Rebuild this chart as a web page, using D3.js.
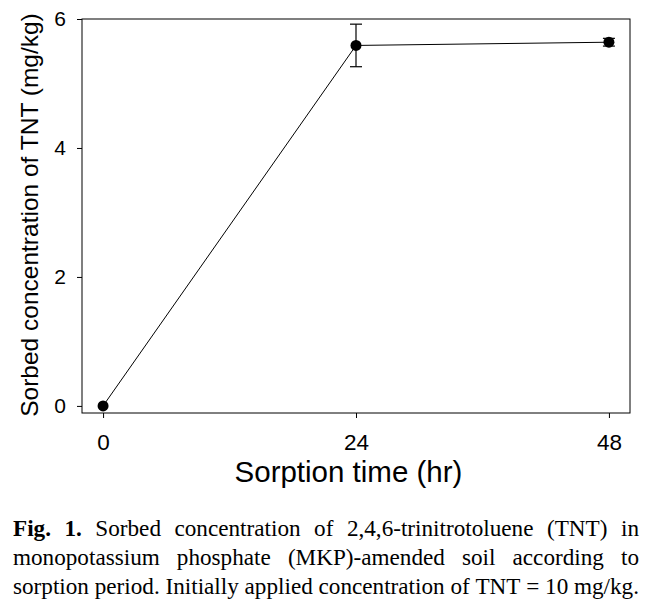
<!DOCTYPE html>
<html>
<head>
<meta charset="utf-8">
<script src="https://cdn.jsdelivr.net/npm/d3@7"></script>
<style>
  body { margin: 0; background: white; }
</style>
</head>
<body>
<div id="chart"></div>
<script>
var W = 658, H = 607;

// data
var times = [0, 24, 48];            // sorption time (hr)
var sorbed = [0, 5.59, 5.64];       // sorbed TNT (mg/kg)
var errs = [0, 0.33, 0.06];         // error bar half-length
var xTicks = [0, 24, 48];
var yTicks = [0, 2, 4, 6];
var captionLines = [
  [["Fig.", true], ["1.", true], ["Sorbed"], ["concentration"], ["of"], ["2,4,6-trinitrotoluene"], ["(TNT)"], ["in"]],
  [["monopotassium"], ["phosphate"], ["(MKP)-amended"], ["soil"], ["according"], ["to"]],
  [["sorption"], ["period."], ["Initially"], ["applied"], ["concentration"], ["of"], ["TNT"], ["="], ["10"], ["mg/kg."]]
];

var box = { left: 82, top: 19, right: 630, bottom: 413 };
var sans = "'Liberation Sans', Arial, sans-serif";
var serif = "'Liberation Serif', 'Times New Roman', serif";

var svg = d3.select('#chart').append('svg')
  .attr('width', W)
  .attr('height', H)
  .attr('style', 'background-color: white');

var x = d3.scaleLinear().domain([-2, 50]).range([box.left, box.right]);
var y = d3.scaleLinear().domain([-0.11, 6]).range([box.bottom, box.top]);

// x axis
var xAxis = svg.append('g')
  .attr('transform', 'translate(0,' + box.bottom + ')')
  .call(d3.axisBottom(x).tickValues(xTicks).tickFormat(d3.format('d'))
    .tickSize(5).tickSizeOuter(0).tickPadding(16));
// y axis
var yAxis = svg.append('g')
  .attr('transform', 'translate(' + box.left + ',0)')
  .call(d3.axisLeft(y).tickValues(yTicks).tickFormat(d3.format('d'))
    .tickSize(5).tickSizeOuter(0).tickPadding(11));

[xAxis, yAxis].forEach(function(a) {
  a.select('.domain').remove();
  a.selectAll('line').attr('stroke', '#000');
  a.selectAll('text').attr('fill', '#000').attr('font-family', sans);
});
xAxis.selectAll('text').attr('font-size', 22.5);
yAxis.selectAll('text').attr('font-size', 21);

// frame
svg.append('rect')
  .attr('x', box.left).attr('y', box.top)
  .attr('width', box.right - box.left).attr('height', box.bottom - box.top)
  .attr('fill', 'none').attr('stroke', '#000').attr('stroke-width', 1);

// line
var pts = times.map(function(t, i) { return { t: t, v: sorbed[i], e: errs[i] }; });
svg.append('path')
  .datum(pts)
  .attr('fill', 'none')
  .attr('stroke', '#000')
  .attr('stroke-width', 1)
  .attr('d', d3.line().x(function(d) { return x(d.t); }).y(function(d) { return y(d.v); }));

// error bars
var eb = svg.append('g').attr('stroke', '#000').attr('stroke-width', 1.2)
  .selectAll('g').data(pts.filter(function(d) { return d.e > 0; })).enter().append('g');
eb.append('line')
  .attr('x1', function(d) { return x(d.t); }).attr('x2', function(d) { return x(d.t); })
  .attr('y1', function(d) { return y(d.v - d.e); }).attr('y2', function(d) { return y(d.v + d.e); });
[-1, 1].forEach(function(s) {
  eb.append('line')
    .attr('x1', function(d) { return x(d.t) - 6; }).attr('x2', function(d) { return x(d.t) + 6; })
    .attr('y1', function(d) { return y(d.v + s * d.e); }).attr('y2', function(d) { return y(d.v + s * d.e); });
});

// points
svg.selectAll('circle.pt')
  .data(pts).enter().append('circle')
  .attr('class', 'pt')
  .attr('cx', function(d) { return x(d.t); })
  .attr('cy', function(d) { return y(d.v); })
  .attr('r', 5.5)
  .attr('fill', '#000');

// axis titles
svg.append('text')
  .attr('x', 348.5)
  .attr('y', 482)
  .attr('text-anchor', 'middle')
  .attr('font-family', sans)
  .attr('font-size', 29.5)
  .text('Sorption time (hr)');

svg.append('text')
  .attr('transform', 'translate(38,215) rotate(-90)')
  .attr('text-anchor', 'middle')
  .attr('font-family', sans)
  .attr('font-size', 24.5)
  .text('Sorbed concentration of TNT (mg/kg)');

// caption, justified word by word; size chosen so the last line fills the width
var capLeft = 13, capRight = 639, capY = [536, 565, 594];
var probe = svg.append('text').attr('font-family', serif).attr('font-size', 20)
  .text(captionLines[2].map(function(w) { return w[0]; }).join(' '));
var capSize = 20 * (capRight - capLeft) / probe.node().getComputedTextLength();
probe.remove();

captionLines.forEach(function(words, li) {
  var t = svg.append('text')
    .attr('font-family', serif)
    .attr('font-size', capSize)
    .attr('fill', '#000');
  var spans = words.map(function(w) {
    return t.append('tspan')
      .attr('font-weight', w[1] ? 'bold' : 'normal')
      .attr('y', capY[li])
      .text(w[0]);
  });
  var widths = spans.map(function(s) { return s.node().getComputedTextLength(); });
  var gap = (capRight - capLeft - d3.sum(widths)) / (words.length - 1);
  var cx = capLeft;
  spans.forEach(function(s, i) {
    s.attr('x', cx);
    cx += widths[i] + gap;
  });
});
</script>
</body>
</html>
